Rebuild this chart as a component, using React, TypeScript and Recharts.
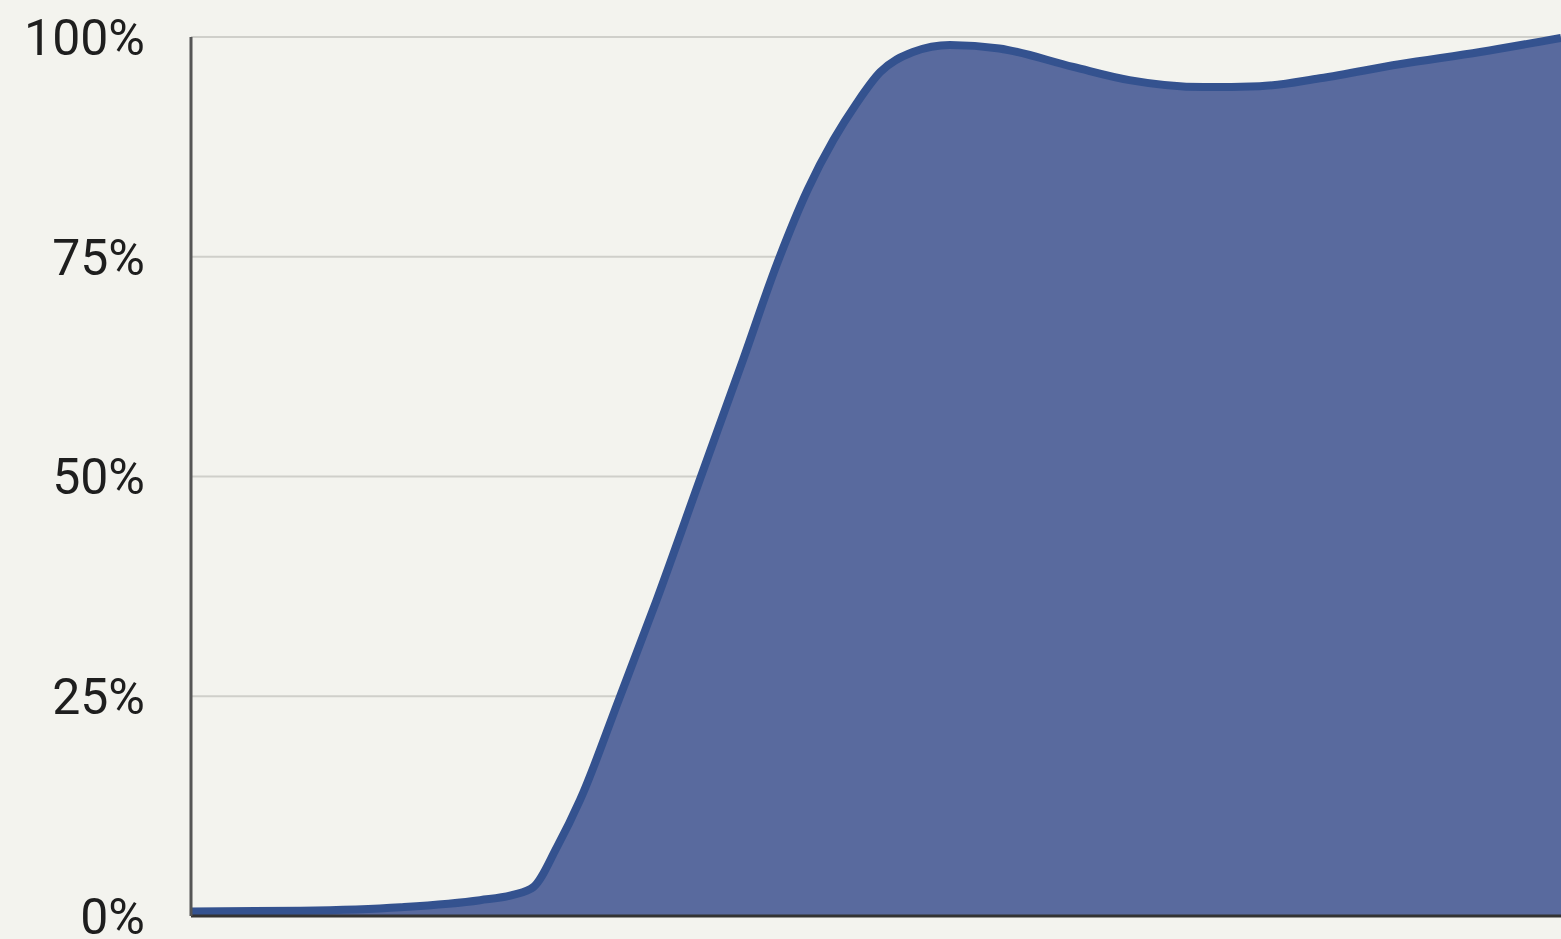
import {
  AreaChart,
  Area,
  XAxis,
  YAxis,
  CartesianGrid,
} from "recharts";

// x position along the range (0-100), share value (%)
const positions = [
  0, 8, 15.3, 21.1, 23.5, 25, 26.7, 28.4, 31.3, 34, 37.2, 40.3, 42.8, 45,
  46.9, 48.6, 50.3, 52.7, 55.4, 59, 64.4, 68.5, 73.9, 78, 82.4, 88.2, 94.1,
  100,
];
const shares = [
  0.5, 0.6, 1.0, 1.8, 2.4, 3.3, 7.8, 13.2, 24.9, 36, 49.9, 63.3, 74.3, 82.6,
  88.3, 92.5, 96, 98.3, 99.1, 98.7, 96.6, 95.1, 94.3, 94.4, 95.3, 96.9, 98.3,
  99.9,
];
const yTicks = [0, 25, 50, 75, 100];

const data = positions.map((x, i) => ({ x, share: shares[i] }));

export default function App() {
  return (
    <div
      style={{
        position: "fixed",
        top: 0,
        left: 0,
        width: 1561,
        height: 939,
        background: "#f3f3ee",
      }}
    >
      <AreaChart
        width={1561}
        height={939}
        data={data}
        margin={{ top: 37, right: 0, bottom: 21, left: 0 }}
      >
        <CartesianGrid
          horizontal
          vertical={false}
          stroke="#cfcfca"
          strokeWidth={2}
        />
        <XAxis
          dataKey="x"
          type="number"
          domain={[0, 100]}
          tick={false}
          tickLine={false}
          height={2}
          axisLine={{ stroke: "#333", strokeWidth: 3 }}
        />
        <YAxis
          domain={[0, 100]}
          ticks={yTicks}
          interval={0}
          width={191}
          tickFormatter={(v) => `${v}%`}
          tick={{ fontSize: 50, fill: "#1e1e1e", fontFamily: "Roboto" }}
          tickLine={false}
          tickSize={0}
          tickMargin={46}
          axisLine={{ stroke: "#555", strokeWidth: 3 }}
        />
        <Area
          type="monotone"
          dataKey="share"
          stroke="#34528f"
          strokeWidth={8}
          fill="#596a9e"
          fillOpacity={1}
          isAnimationActive={false}
          dot={false}
          activeDot={false}
        />
      </AreaChart>
    </div>
  );
}
